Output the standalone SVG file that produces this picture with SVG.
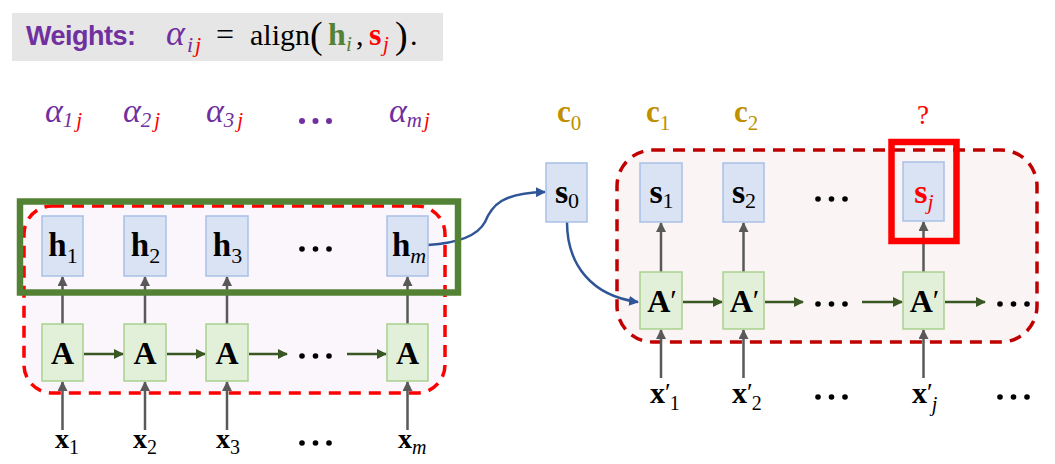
<svg xmlns="http://www.w3.org/2000/svg" width="1055" height="464" viewBox="0 0 1055 464">
<defs>
<style>
.bx{fill:#dae3f3;stroke:#a9c0e6;stroke-width:1.5}
.ax{fill:#e2f0d9;stroke:#a9d18e;stroke-width:1.5}
.m{font-family:"Liberation Serif",serif}
.b{font-family:"Liberation Serif",serif;font-weight:bold}
.it{font-family:"Liberation Serif",serif;font-style:italic}
.gv{stroke:#595959;stroke-width:2.5;fill:none}
.gh{stroke:#385723;stroke-width:2.5;fill:none}
.bl{stroke:#2f5597;stroke-width:2.5;fill:none}
.pu{fill:#7030a0}
.rd{fill:#ff0000}
.go{fill:#bf9000}
.dot{fill:#000}
</style>
<marker id="ag" viewBox="0 0 10 10" refX="9" refY="5" markerWidth="10" markerHeight="10" markerUnits="userSpaceOnUse" orient="auto"><path d="M0,0 L10,5 L0,10 z" fill="#595959"/></marker>
<marker id="an" viewBox="0 0 10 10" refX="9" refY="5" markerWidth="10" markerHeight="10" markerUnits="userSpaceOnUse" orient="auto"><path d="M0,0 L10,5 L0,10 z" fill="#385723"/></marker>
<marker id="ab" viewBox="0 0 10 10" refX="9" refY="5" markerWidth="10" markerHeight="10" markerUnits="userSpaceOnUse" orient="auto"><path d="M0,0 L10,5 L0,10 z" fill="#2f5597"/></marker>
</defs>
<rect width="1055" height="464" fill="#ffffff"/>

<g id="title">
<rect x="12" y="13" width="431" height="48" fill="#e7e6e6"/>
<text x="26" y="45" font-family="'Liberation Sans',sans-serif" font-weight="bold" font-size="27" class="pu" textLength="110">Weights:</text>
<text x="166" y="45" class="it pu" font-size="36">α</text>
<text x="187" y="52" class="it pu" font-size="22">i</text>
<text x="195" y="52" class="it rd" font-size="22">j</text>
<text x="216" y="45" class="m" font-size="32" fill="#000">=</text>
<text x="250" y="45" class="m" font-size="30" fill="#000">align</text>
<text x="310" y="48" class="m" font-size="38" fill="#000">(</text>
<text x="328" y="45" class="b" font-size="32" fill="#548235">h</text>
<text x="346" y="51" class="it" font-size="21" fill="#548235">i</text>
<text x="356" y="45" class="m" font-size="30" fill="#000">,</text>
<text x="369" y="45" class="b rd" font-size="32">s</text>
<text x="383" y="51" class="it rd" font-size="21">j</text>
<text x="395" y="48" class="m" font-size="38" fill="#000">)</text>
<text x="410" y="45" class="m" font-size="30" fill="#000">.</text>
</g>

<g id="encoder-region">
<rect x="24" y="206" width="421" height="187" rx="28" fill="#fbf5fc" stroke="#ff0000" stroke-width="3.5" stroke-dasharray="12 8"/>
</g>
<g id="decoder-region">
<rect x="617" y="150" width="420" height="192" rx="36" fill="#fbf4f4" stroke="#c00000" stroke-width="3.5" stroke-dasharray="12 8"/>
</g>

<g id="connectors">
<line class="gv" x1="62.5" y1="430" x2="62.5" y2="382" marker-end="url(#ag)"/>
<line class="gv" x1="145" y1="430" x2="145" y2="382" marker-end="url(#ag)"/>
<line class="gv" x1="227" y1="430" x2="227" y2="382" marker-end="url(#ag)"/>
<line class="gv" x1="407.5" y1="430" x2="407.5" y2="382" marker-end="url(#ag)"/>
<line class="gv" x1="62.5" y1="324" x2="62.5" y2="277" marker-end="url(#ag)"/>
<line class="gv" x1="145" y1="324" x2="145" y2="277" marker-end="url(#ag)"/>
<line class="gv" x1="227" y1="324" x2="227" y2="277" marker-end="url(#ag)"/>
<line class="gv" x1="407.5" y1="324" x2="407.5" y2="277" marker-end="url(#ag)"/>
<line class="gh" x1="84" y1="354" x2="123" y2="354" marker-end="url(#an)"/>
<line class="gh" x1="167" y1="354" x2="205" y2="354" marker-end="url(#an)"/>
<line class="gh" x1="249" y1="354" x2="287" y2="354" marker-end="url(#an)"/>
<line class="gh" x1="347" y1="354" x2="386" y2="354" marker-end="url(#an)"/>
<line class="gv" x1="661" y1="378" x2="661" y2="330" marker-end="url(#ag)"/>
<line class="gv" x1="743.5" y1="378" x2="743.5" y2="330" marker-end="url(#ag)"/>
<line class="gv" x1="923.5" y1="378" x2="923.5" y2="330" marker-end="url(#ag)"/>
<line class="gv" x1="661" y1="272" x2="661" y2="223" marker-end="url(#ag)"/>
<line class="gv" x1="743.5" y1="272" x2="743.5" y2="223" marker-end="url(#ag)"/>
<line class="gv" x1="923.5" y1="272" x2="923.5" y2="222" marker-end="url(#ag)"/>
<line class="gh" x1="683" y1="302" x2="722" y2="302" marker-end="url(#an)"/>
<line class="gh" x1="765" y1="302" x2="803" y2="302" marker-end="url(#an)"/>
<line class="gh" x1="862" y1="302" x2="902" y2="302" marker-end="url(#an)"/>
<line class="gh" x1="945" y1="302" x2="985" y2="302" marker-end="url(#an)"/>
<path class="bl" d="M428,245 C460,243 478,235 485,222 C492,205 502,193 545,192" marker-end="url(#ab)"/>
<path class="bl" d="M567,222 C567,265 592,296 638,302" marker-end="url(#ab)"/>
</g>

<g id="h1"><rect class="bx" x="42" y="216" width="41" height="60"/><text x="63" y="256" text-anchor="middle"><tspan class="b" font-size="33">h</tspan><tspan class="m" font-size="22" dy="7">1</tspan></text></g>
<g id="h2"><rect class="bx" x="124" y="216" width="42" height="60"/><text x="145.5" y="256" text-anchor="middle"><tspan class="b" font-size="33">h</tspan><tspan class="m" font-size="22" dy="7">2</tspan></text></g>
<g id="h3"><rect class="bx" x="206" y="216" width="42" height="60"/><text x="227.5" y="256" text-anchor="middle"><tspan class="b" font-size="33">h</tspan><tspan class="m" font-size="22" dy="7">3</tspan></text></g>
<g id="hm"><rect class="bx" x="387" y="216" width="41" height="60"/><text x="409" y="256" text-anchor="middle"><tspan class="b" font-size="33">h</tspan><tspan class="it" font-size="22" dy="7">m</tspan></text></g>

<g id="A1"><rect class="ax" x="42" y="324" width="41" height="57"/><text x="62.5" y="364" text-anchor="middle" class="b" font-size="32">A</text></g>
<g id="A2"><rect class="ax" x="124" y="324" width="42" height="57"/><text x="145" y="364" text-anchor="middle" class="b" font-size="32">A</text></g>
<g id="A3"><rect class="ax" x="206" y="324" width="42" height="57"/><text x="227" y="364" text-anchor="middle" class="b" font-size="32">A</text></g>
<g id="Am"><rect class="ax" x="387" y="324" width="41" height="57"/><text x="407.5" y="364" text-anchor="middle" class="b" font-size="32">A</text></g>

<g id="encoder-frame">
<rect x="20" y="201.5" width="438" height="91" fill="none" stroke="#548235" stroke-width="6.5"/>
</g>

<g id="s0"><rect class="bx" x="546" y="163" width="41" height="59"/><text x="567" y="203" text-anchor="middle"><tspan class="b" font-size="34">s</tspan><tspan class="m" font-size="22" dy="5">0</tspan></text></g>
<g id="s1"><rect class="bx" x="640" y="163" width="42" height="59"/><text x="661.5" y="203" text-anchor="middle"><tspan class="b" font-size="34">s</tspan><tspan class="m" font-size="22" dy="5">1</tspan></text></g>
<g id="s2"><rect class="bx" x="723" y="163" width="41" height="59"/><text x="744" y="203" text-anchor="middle"><tspan class="b" font-size="34">s</tspan><tspan class="m" font-size="22" dy="5">2</tspan></text></g>
<g id="sj"><rect class="bx" x="903" y="162" width="41" height="59"/><text x="924" y="203" text-anchor="middle"><tspan class="b rd" font-size="34">s</tspan><tspan class="it rd" font-size="22" dy="6">j</tspan></text>
<rect x="891.5" y="142" width="65" height="99" fill="none" stroke="#ff0000" stroke-width="6.5"/></g>

<g id="A1p"><rect class="ax" x="640" y="272" width="42" height="57"/><text x="662" y="312" text-anchor="middle"><tspan class="b" font-size="32">A</tspan><tspan class="m" font-size="30" dy="-2">′</tspan></text></g>
<g id="A2p"><rect class="ax" x="723" y="272" width="41" height="57"/><text x="744.5" y="312" text-anchor="middle"><tspan class="b" font-size="32">A</tspan><tspan class="m" font-size="30" dy="-2">′</tspan></text></g>
<g id="Ajp"><rect class="ax" x="903" y="272" width="41" height="57"/><text x="924.5" y="312" text-anchor="middle"><tspan class="b" font-size="32">A</tspan><tspan class="m" font-size="30" dy="-2">′</tspan></text></g>

<g id="alpha-labels">
<text x="45" y="122" class="it pu" font-size="34">α<tspan class="m" font-size="21" dy="5">1</tspan><tspan class="rd" font-size="21" dx="3">j</tspan></text>
<text x="123" y="122" class="it pu" font-size="34">α<tspan class="m" font-size="21" dy="5">2</tspan><tspan class="rd" font-size="21" dx="3">j</tspan></text>
<text x="206" y="122" class="it pu" font-size="34">α<tspan class="m" font-size="21" dy="5">3</tspan><tspan class="rd" font-size="21" dx="3">j</tspan></text>
<text x="389" y="122" class="it pu" font-size="34">α<tspan font-size="21" dy="5">m</tspan><tspan class="rd" font-size="21" dx="2">j</tspan></text>
<circle class="pu" cx="302" cy="121" r="3"/><circle class="pu" cx="315.5" cy="121" r="3"/><circle class="pu" cx="329" cy="121" r="3"/>
</g>

<g id="c-labels">
<text x="557" y="122" class="go"><tspan class="b" font-size="31">c</tspan><tspan class="m" font-size="21" dy="8">0</tspan></text>
<text x="646" y="122" class="go"><tspan class="b" font-size="31">c</tspan><tspan class="m" font-size="21" dy="8">1</tspan></text>
<text x="734" y="122" class="go"><tspan class="b" font-size="31">c</tspan><tspan class="m" font-size="21" dy="8">2</tspan></text>
<text x="923" y="124" class="m rd" font-size="27" text-anchor="middle">?</text>
</g>

<g id="x-labels">
<text x="55" y="448"><tspan class="b" font-size="28">x</tspan><tspan class="m" font-size="20" dy="6">1</tspan></text>
<text x="133" y="448"><tspan class="b" font-size="28">x</tspan><tspan class="m" font-size="20" dy="6">2</tspan></text>
<text x="216" y="448"><tspan class="b" font-size="28">x</tspan><tspan class="m" font-size="20" dy="6">3</tspan></text>
<text x="398" y="448"><tspan class="b" font-size="28">x</tspan><tspan class="it" font-size="20" dy="6">m</tspan></text>
<text x="650" y="403"><tspan class="b" font-size="30">x</tspan><tspan class="m" font-size="26" dy="-2">′</tspan><tspan class="m" font-size="20" dx="-1" dy="9">1</tspan></text>
<text x="732" y="403"><tspan class="b" font-size="30">x</tspan><tspan class="m" font-size="26" dy="-2">′</tspan><tspan class="m" font-size="20" dx="-1" dy="9">2</tspan></text>
<text x="912" y="403"><tspan class="b" font-size="30">x</tspan><tspan class="m" font-size="26" dy="-2">′</tspan><tspan class="it" font-size="20" dx="-1" dy="10">j</tspan></text>
</g>

<g id="ellipses" class="dot">
<circle cx="302" cy="249" r="2.8"/><circle cx="315.5" cy="249" r="2.8"/><circle cx="329" cy="249" r="2.8"/>
<circle cx="302" cy="356" r="2.8"/><circle cx="315.5" cy="356" r="2.8"/><circle cx="329" cy="356" r="2.8"/>
<circle cx="302" cy="443" r="2.8"/><circle cx="315.5" cy="443" r="2.8"/><circle cx="329" cy="443" r="2.8"/>
<circle cx="818" cy="199" r="2.8"/><circle cx="831.5" cy="199" r="2.8"/><circle cx="845" cy="199" r="2.8"/>
<circle cx="818" cy="304" r="2.8"/><circle cx="831.5" cy="304" r="2.8"/><circle cx="845" cy="304" r="2.8"/>
<circle cx="1000" cy="304" r="2.8"/><circle cx="1013.5" cy="304" r="2.8"/><circle cx="1027" cy="304" r="2.8"/>
<circle cx="818" cy="397" r="2.8"/><circle cx="831.5" cy="397" r="2.8"/><circle cx="845" cy="397" r="2.8"/>
<circle cx="1000" cy="397" r="2.8"/><circle cx="1013.5" cy="397" r="2.8"/><circle cx="1027" cy="397" r="2.8"/>
</g>
</svg>
